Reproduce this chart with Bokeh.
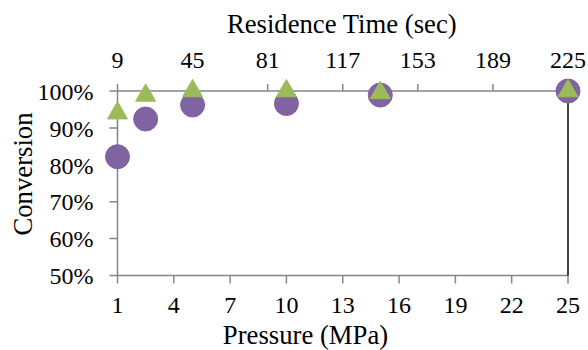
from bokeh.plotting import figure
from bokeh.models import Range1d
from bokeh.core.properties import value
from bokeh.embed import file_html
from bokeh.resources import INLINE

# ---- data ----
pressure_mpa = [1, 2.5, 5, 10, 15, 25]
conversion_purple = [82.2, 92.4, 96.2, 96.6, 98.9, 100.0]
conversion_green = [94.0, 98.8, 100.0, 100.0, 99.5, 100.0]
pressure_ticks = [1, 4, 7, 10, 13, 16, 19, 22, 25]
time_ticks = [9, 45, 81, 117, 153, 189, 225]
conversion_ticks = [50, 60, 70, 80, 90, 100]
sec_per_mpa = 9  # residence time = 9 * pressure

PURPLE = "#8064A2"
GREEN = "#9BBB59"
GRAY = "#868686"
FONT = "Liberation Serif"
TICK_PX, TITLE_PX = 24, 26.7

# ---- layout (pixels in the figure) ----
W, H = 588, 350
AX_L, AX_R = 117, 567.5                    # x = 1 and x = 25
AX_T, AX_B = 90.5, 275                     # y = 100 and y = 50
pxx = (AX_R - AX_L) / (pressure_ticks[-1] - pressure_ticks[0])
pxy = (AX_B - AX_T) / (conversion_ticks[-1] - conversion_ticks[0])

def xdata(px):
    return pressure_ticks[0] + (px - AX_L) / pxx

def ydata(py):
    return conversion_ticks[-1] - (py - AX_T) / pxy

def base(py, size):
    # text glyph anchor that puts the alphabetic baseline at pixel row py
    return ydata(py - 0.3375 * size)

x0, x1 = xdata(0), xdata(W)
y0, y1 = ydata(H), ydata(0)

p = figure(width=W, height=H, output_backend="svg", toolbar_location=None,
           x_range=Range1d(x0, x1), y_range=Range1d(y0, y1),
           x_axis_location=None, y_axis_location=None,
           min_border=0, background_fill_color="white", border_fill_color="white")
p.outline_line_color = None
p.grid.grid_line_color = None
for g in p.center:
    if hasattr(g, "grid_line_color"):
        g.grid_line_color = None
        g.visible = False
p.extra_x_ranges = {"time": Range1d(x0 * sec_per_mpa, x1 * sec_per_mpa)}

# ---- axis lines and tick marks ----
xl, xr = pressure_ticks[0], pressure_ticks[-1]
yb, yt = conversion_ticks[0], conversion_ticks[-1]
tick_x = 8 / pxx
tick_y_top = 7 / pxy
tick_y_bot = 8 / pxy
nC, nP, nT = len(conversion_ticks), len(pressure_ticks), len(time_ticks)

p.segment(x0=[xl], y0=[yb], x1=[xl], y1=[yt], line_color=GRAY, line_width=1.5)
p.segment(x0=[xl - tick_x] * nC, y0=conversion_ticks, x1=[xl] * nC, y1=conversion_ticks,
          line_color=GRAY, line_width=1.5)
p.segment(x0=[xl], y0=[yb], x1=[xr], y1=[yb], line_color=GRAY, line_width=1.5)
p.segment(x0=pressure_ticks, y0=[yb] * nP, x1=pressure_ticks, y1=[yb - tick_y_bot] * nP,
          line_color=GRAY, line_width=1.5)
p.segment(x0=[xl], y0=[yt], x1=[xr], y1=[yt], line_color=GRAY, line_width=1.5)
p.segment(x0=time_ticks, y0=[yt] * nT, x1=time_ticks, y1=[yt + tick_y_top] * nT,
          x_range_name="time", line_color=GRAY, line_width=1.5)
p.segment(x0=[xr], y0=[yb], x1=[xr], y1=[yt], line_color="black", line_width=1.5)

# ---- tick labels ----
def txt(x, y, text, size, align="center", angle=0, **kw):
    p.text(x=x, y=y, text=text, angle=angle, text_font=value(FONT),
           text_font_size=f"{size}px", text_color="black",
           text_align=align, text_baseline="alphabetic", **kw)

# left: percentages, right edge at x = 93 px
txt([xdata(93)] * nC, [ydata(AX_B - (c - yb) * pxy + 8.8 - 0.3375 * TICK_PX) for c in conversion_ticks],
    [f"{c}%" for c in conversion_ticks], TICK_PX, align="right")
# bottom: pressure
txt(pressure_ticks, [base(313.3, TICK_PX)] * nP, [str(t) for t in pressure_ticks], TICK_PX)
# top: residence time
txt(time_ticks, [base(68.3, TICK_PX)] * nT, [str(t) for t in time_ticks], TICK_PX,
    x_range_name="time")

# ---- axis titles ----
txt([xdata(341.5)], [base(32.8, TITLE_PX)], ["Residence Time (sec)"], TITLE_PX)
txt([xdata(305)], [base(344, TITLE_PX)], ["Pressure (MPa)"], TITLE_PX)
txt([xdata(31.5 - 0.3375 * TITLE_PX)], [ydata(173.5)], ["Conversion"], TITLE_PX, angle=1.5708)

# ---- markers ----
p.scatter(pressure_mpa, conversion_purple, marker="circle", size=24,
          fill_color=PURPLE, line_color=PURPLE)
p.scatter(pressure_mpa, conversion_green, marker="triangle", size=20,
          fill_color=GREEN, line_color=GREEN)

open("out.html", "w").write(file_html(p, INLINE))
